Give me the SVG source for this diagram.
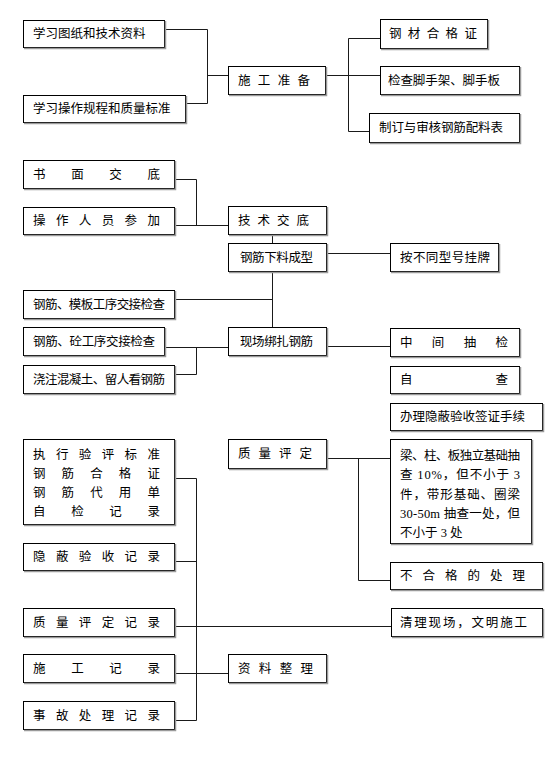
<svg xmlns="http://www.w3.org/2000/svg" width="555" height="777" viewBox="0 0 555 777">
<style>
.b{fill:#fff;stroke:#000;stroke-width:1}
.s{fill:none;stroke:#9a9a9a;stroke-width:1.5}
.c{fill:none;stroke:#1a1a1a;stroke-width:1}
text{font-family:"Liberation Serif","Noto Sans CJK SC",serif;font-size:12.5px;fill:#000}
</style>
<rect width="555" height="777" fill="#fff"/>
<g id="connectors">
<path class="c" d="M164,29.5H207.5V103.5H185"/>
<path class="c" d="M207.5,75.5H228"/>
<path class="c" d="M325,75.5H380"/>
<path class="c" d="M380,38.5H348.5V131.5H369"/>
<path class="c" d="M174,179.5H196.5V225.5"/>
<path class="c" d="M174,225.5H228"/>
<path class="c" d="M272.5,234V243"/>
<path class="c" d="M326,253.5H390"/>
<path class="c" d="M272.5,271V327"/>
<path class="c" d="M174,299.5H272.5"/>
<path class="c" d="M164,347.5H228"/>
<path class="c" d="M196.5,347.5V374.5H174"/>
<path class="c" d="M326,346.5H390"/>
<path class="c" d="M174,478.5H196.5V720.5H174"/>
<path class="c" d="M174,561.5H196.5"/>
<path class="c" d="M174,626.5H391"/>
<path class="c" d="M174,673.5H228"/>
<path class="c" d="M326,458.5H390"/>
<path class="c" d="M358.5,458.5V580.5H390"/>
</g>
<g id="n1"><rect class="b" x="23.5" y="20.5" width="141" height="27"/><path class="s" d="M165.5,21V48.5H24"/><text x="33" y="38">学习图纸和技术资料</text></g>
<g id="n2"><rect class="b" x="23.5" y="95.5" width="162" height="27"/><path class="s" d="M186.5,96V123.5H24"/><text x="33" y="113">学习操作规程和质量标准</text></g>
<g id="n3"><rect class="b" x="228.5" y="66.5" width="97" height="28"/><path class="s" d="M326.5,67V95.5H229"/><text x="238" y="84.5" textLength="72" lengthAdjust="spacing">施工准备</text></g>
<g id="n4"><rect class="b" x="380.5" y="19.5" width="107" height="29"/><path class="s" d="M488.5,20V49.5H381"/><text x="389" y="38" textLength="88" lengthAdjust="spacing">钢材合格证</text></g>
<g id="n5"><rect class="b" x="380.5" y="66.5" width="139" height="28"/><path class="s" d="M520.5,67V95.5H381"/><text x="388" y="84.5" textLength="112" lengthAdjust="spacing">检查脚手架、脚手板</text></g>
<g id="n6"><rect class="b" x="369.5" y="113.5" width="150" height="29"/><path class="s" d="M520.5,114V143.5H370"/><text x="379" y="132" textLength="124" lengthAdjust="spacing">制订与审核钢筋配料表</text></g>
<g id="n7"><rect class="b" x="23.5" y="160.5" width="151" height="28"/><path class="s" d="M175.5,161V189.5H24"/><text x="33" y="178.5" textLength="127" lengthAdjust="spacing">书面交底</text></g>
<g id="n8"><rect class="b" x="23.5" y="207.5" width="151" height="27"/><path class="s" d="M175.5,208V235.5H24"/><text x="33" y="225" textLength="127" lengthAdjust="spacing">操作人员参加</text></g>
<g id="n9"><rect class="b" x="228.5" y="206.5" width="98" height="28"/><path class="s" d="M327.5,207V235.5H229"/><text x="238" y="224.5" textLength="71" lengthAdjust="spacing">技术交底</text></g>
<g id="n10"><rect class="b" x="228.5" y="243.5" width="98" height="28"/><path class="s" d="M327.5,244V272.5H229"/><text x="240" y="261.5" textLength="73" lengthAdjust="spacing">钢筋下料成型</text></g>
<g id="n11"><rect class="b" x="390.5" y="243.5" width="108" height="28"/><path class="s" d="M499.5,244V272.5H391"/><text x="400" y="261.5" textLength="90" lengthAdjust="spacing">按不同型号挂牌</text></g>
<g id="n12"><rect class="b" x="23.5" y="290.5" width="151" height="28"/><path class="s" d="M175.5,291V319.5H24"/><text x="33" y="308.5" textLength="132" lengthAdjust="spacing">钢筋、模板工序交接检查</text></g>
<g id="n13"><rect class="b" x="23.5" y="327.5" width="141" height="28"/><path class="s" d="M165.5,328V356.5H24"/><text x="33" y="345.5" textLength="122" lengthAdjust="spacing">钢筋、砼工序交接检查</text></g>
<g id="n14"><rect class="b" x="23.5" y="365.5" width="151" height="28"/><path class="s" d="M175.5,366V394.5H24"/><text x="33" y="383.5" textLength="132" lengthAdjust="spacing">浇注混凝土、留人看钢筋</text></g>
<g id="n15"><rect class="b" x="228.5" y="327.5" width="98" height="28"/><path class="s" d="M327.5,328V356.5H229"/><text x="240" y="345.5" textLength="73" lengthAdjust="spacing">现场绑扎钢筋</text></g>
<g id="n16"><rect class="b" x="390.5" y="328.5" width="129" height="28"/><path class="s" d="M520.5,329V357.5H391"/><text x="400" y="346.5" textLength="108" lengthAdjust="spacing">中间抽检</text></g>
<g id="n17"><rect class="b" x="390.5" y="366.5" width="129" height="27"/><path class="s" d="M520.5,367V394.5H391"/><text x="400" y="384" textLength="108" lengthAdjust="spacing">自查</text></g>
<g id="n18"><rect class="b" x="390.5" y="403.5" width="152" height="27"/><path class="s" d="M543.5,404V431.5H391"/><text x="400" y="421" textLength="125" lengthAdjust="spacing">办理隐蔽验收签证手续</text></g>
<g id="n19"><rect class="b" x="23.5" y="439.5" width="151" height="85"/><path class="s" d="M175.5,440V525.5H24"/>
<text x="33" y="458.5" textLength="127" lengthAdjust="spacing">执行验评标准</text>
<text x="33" y="477.5" textLength="127" lengthAdjust="spacing">钢筋合格证</text>
<text x="33" y="496.5" textLength="127" lengthAdjust="spacing">钢筋代用单</text>
<text x="33" y="515.5" textLength="127" lengthAdjust="spacing">自检记录</text></g>
<g id="n20"><rect class="b" x="23.5" y="543.5" width="151" height="27"/><path class="s" d="M175.5,544V571.5H24"/><text x="33" y="561" textLength="127" lengthAdjust="spacing">隐蔽验收记录</text></g>
<g id="n21"><rect class="b" x="228.5" y="439.5" width="98" height="29"/><path class="s" d="M327.5,440V469.5H229"/><text x="238" y="458" textLength="74" lengthAdjust="spacing">质量评定</text></g>
<g id="n22"><rect class="b" x="390.5" y="439.5" width="141" height="104"/><path class="s" d="M532.5,440V544.5H391"/>
<text x="400" y="459.5" textLength="120" lengthAdjust="spacing">梁、柱、板独立基础抽</text>
<text x="400" y="478.5" textLength="120" lengthAdjust="spacing">查 10%，但不小于 3</text>
<text x="400" y="498.5" textLength="120" lengthAdjust="spacing">件，带形基础、圈梁</text>
<text x="400" y="517.5" textLength="120" lengthAdjust="spacing">30-50m 抽查一处，但</text>
<text x="400" y="536.5">不小于 3 处</text></g>
<g id="n23"><rect class="b" x="390.5" y="562.5" width="152" height="27"/><path class="s" d="M543.5,563V590.5H391"/><text x="400" y="580" textLength="125" lengthAdjust="spacing">不合格的处理</text></g>
<g id="n24"><rect class="b" x="391.5" y="608.5" width="151" height="28"/><path class="s" d="M543.5,609V637.5H392"/><text x="400" y="626.5" textLength="127" lengthAdjust="spacing">清理现场，文明施工</text></g>
<g id="n25"><rect class="b" x="23.5" y="608.5" width="151" height="28"/><path class="s" d="M175.5,609V637.5H24"/><text x="33" y="626.5" textLength="127" lengthAdjust="spacing">质量评定记录</text></g>
<g id="n26"><rect class="b" x="23.5" y="654.5" width="151" height="28"/><path class="s" d="M175.5,655V683.5H24"/><text x="33" y="672.5" textLength="127" lengthAdjust="spacing">施工记录</text></g>
<g id="n27"><rect class="b" x="228.5" y="654.5" width="98" height="28"/><path class="s" d="M327.5,655V683.5H229"/><text x="238" y="672.5" textLength="75" lengthAdjust="spacing">资料整理</text></g>
<g id="n28"><rect class="b" x="23.5" y="701.5" width="151" height="28"/><path class="s" d="M175.5,702V730.5H24"/><text x="33" y="719.5" textLength="127" lengthAdjust="spacing">事故处理记录</text></g>
</svg>
